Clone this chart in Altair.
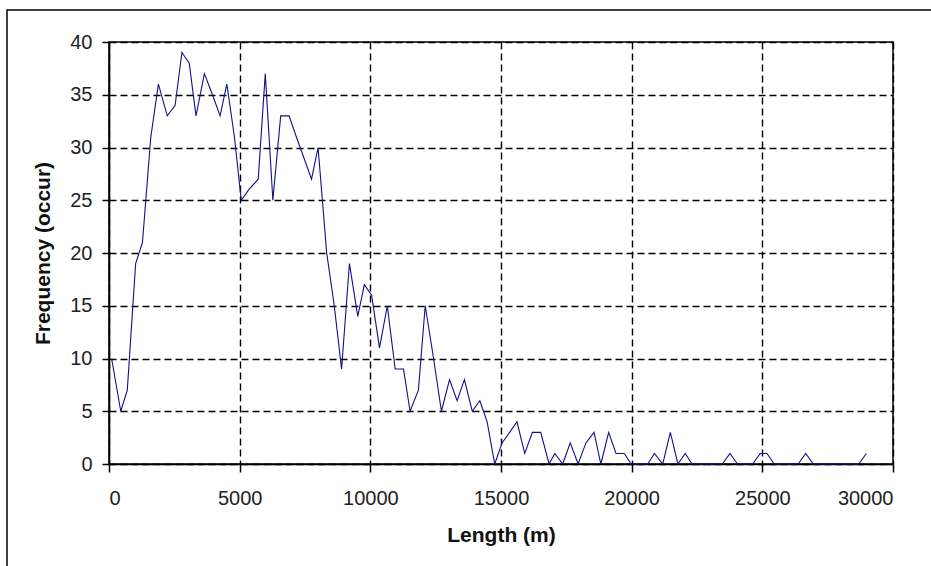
import altair as alt
import pandas as pd

# Bin lengths (m) and frequencies
lengths = [100, 450, 700, 1020, 1280, 1600, 1890, 2230, 2530, 2790,
           3070, 3330, 3650, 3960, 4250, 4510, 4800, 5060, 5350, 5710,
           5980, 6270, 6570, 6890, 7170, 7460, 7750, 8000, 8330, 8620,
           8900, 9200, 9520, 9770, 10050, 10350, 10650, 10950, 11270, 11520,
           11840, 12100, 12420, 12720, 13030, 13320, 13600, 13900, 14190, 14470,
           14760, 15040, 15330, 15610, 15910, 16200, 16520, 16840, 17060, 17360,
           17650, 17950, 18250, 18560, 18820, 19120, 19400, 19720, 19980, 20300,
           20620, 20870, 21190, 21480, 21770, 22050, 22310, 22600, 22890, 23180,
           23470, 23760, 24050, 24340, 24630, 24920, 25180, 25450, 25790, 26080,
           26370, 26660, 26950, 27240, 27530, 27820, 28110, 28400, 28690, 28980]
freqs = [10, 5, 7, 19, 21, 31, 36, 33, 34, 39,
         38, 33, 37, 35, 33, 36, 31, 25, 26, 27,
         37, 25, 33, 33, 31, 29, 27, 30, 20, 15,
         9, 19, 14, 17, 16, 11, 15, 9, 9, 5,
         7, 15, 10, 5, 8, 6, 8, 5, 6, 4,
         0, 2, 3, 4, 1, 3, 3, 0, 1, 0,
         2, 0, 2, 3, 0, 3, 1, 1, 0, 0,
         0, 1, 0, 3, 0, 1, 0, 0, 0, 0,
         0, 1, 0, 0, 0, 1, 1, 0, 0, 0,
         0, 1, 0, 0, 0, 0, 0, 0, 0, 1]

x_ticks = [0, 5000, 10000, 15000, 20000, 25000, 30000]
y_ticks = [0, 5, 10, 15, 20, 25, 30, 35, 40]

df = pd.DataFrame({"length": lengths, "freq": freqs})

W, H = 784, 422

frame = alt.Chart(pd.DataFrame({"k": [0]})).mark_rect(
    fill="transparent", stroke="black", strokeWidth=1.5
).encode(
    x=alt.value(-102), x2=alt.value(W + 120),
    y=alt.value(-32), y2=alt.value(H + 160),
)

line = alt.Chart(df).mark_line(color="#10108a", strokeWidth=1.1).encode(
    x=alt.X("length:Q", title="Length (m)",
            scale=alt.Scale(domain=[0, 30000], nice=False),
            axis=alt.Axis(values=x_ticks, format="d", tickSize=8,
                          labelPadding=16, titlePadding=16)),
    y=alt.Y("freq:Q", title="Frequency (occur)",
            scale=alt.Scale(domain=[0, 40], nice=False),
            axis=alt.Axis(values=y_ticks, tickSize=7, labelPadding=10,
                          titlePadding=16)),
)

chart = alt.layer(frame, line).properties(
    width=W, height=H,
    autosize=alt.AutoSizeParams(type="none"),
    padding={"left": 109, "top": 42, "right": 38, "bottom": 102},
    background="white",
).configure_view(
    stroke="black", strokeWidth=1.5
).configure_axis(
    domainColor="black", domainWidth=1.5,
    tickColor="black", tickWidth=1.5,
    grid=True, gridColor="black", gridDash=[7, 4], gridWidth=1.4, gridOpacity=1,
    labelFont="Liberation Sans", labelFontSize=20, labelColor="#222222",
    titleFont="Liberation Sans", titleFontSize=21, titleFontWeight="bold",
    titleColor="#111111",
)

chart.save("out.html", embed_options={"renderer": "svg", "actions": False})
